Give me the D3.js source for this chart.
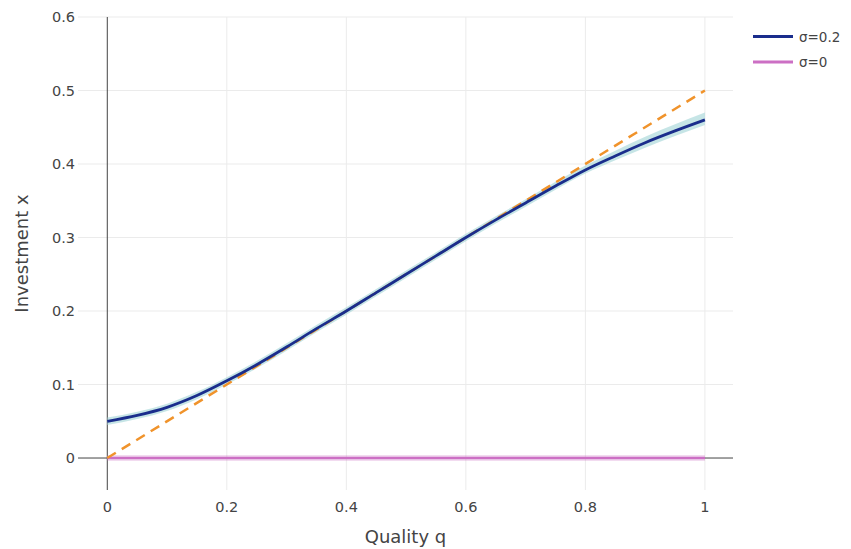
<!DOCTYPE html>
<html>
<head>
<meta charset="utf-8">
<script src="https://cdn.jsdelivr.net/npm/d3@7"></script>
<style>
  body { margin: 0; background: #fff; }
  svg { display: block; font-family: "DejaVu Sans", sans-serif; }
</style>
</head>
<body>
<svg id="chart" width="851" height="549"></svg>
<script>
// Quality grid and simulated investment
const quality = [0, 0.05, 0.1, 0.15, 0.2, 0.25, 0.3, 0.35, 0.4, 0.45, 0.5,
                 0.55, 0.6, 0.65, 0.7, 0.75, 0.8, 0.85, 0.9, 0.95, 1.0];
const investNoise = [0.050, 0.058, 0.069, 0.085, 0.105, 0.127, 0.151, 0.176, 0.200, 0.225, 0.250,
                     0.275, 0.300, 0.324, 0.347, 0.370, 0.392, 0.411, 0.429, 0.445, 0.460];
const bandUpper = [0.055, 0.063, 0.074, 0.090, 0.110, 0.132, 0.156, 0.181, 0.205, 0.230, 0.255,
                   0.280, 0.305, 0.329, 0.352, 0.376, 0.398, 0.418, 0.437, 0.454, 0.470];
const bandLower = [0.045, 0.053, 0.064, 0.080, 0.100, 0.122, 0.146, 0.171, 0.195, 0.220, 0.245,
                   0.270, 0.295, 0.319, 0.342, 0.365, 0.387, 0.405, 0.422, 0.438, 0.453];
const investNoNoise = [0, 0, 0, 0, 0, 0, 0, 0, 0, 0, 0, 0, 0, 0, 0, 0, 0, 0, 0, 0, 0];
// Reference line x = q/2
const refQ = [0, 1];
const refX = [0, 0.5];

const xTicks = [0, 0.2, 0.4, 0.6, 0.8, 1];
const yTicks = [0, 0.1, 0.2, 0.3, 0.4, 0.5, 0.6];
const seriesNames = ["σ=0.2", "σ=0"];
const seriesColors = ["#1a2d8c", "#cc6fc4"];

const svg = d3.select("#chart");
const plotLeft = 78, plotRight = 733, plotTop = 17, plotBottom = 490;

const x = d3.scaleLinear().domain([-0.049, 1.047]).range([plotLeft, plotRight]);
const y = d3.scaleLinear().domain([-0.0435, 0.6]).range([plotBottom, plotTop]);

// Grid
const grid = svg.append("g");
grid.selectAll("line.gx").data(xTicks.filter(d => d !== 0)).join("line")
  .attr("x1", d => x(d)).attr("x2", d => x(d))
  .attr("y1", plotTop).attr("y2", plotBottom)
  .attr("stroke", "#ebebeb").attr("stroke-width", 1);
grid.selectAll("line.gy").data(yTicks.filter(d => d !== 0)).join("line")
  .attr("x1", plotLeft).attr("x2", plotRight)
  .attr("y1", d => y(d)).attr("y2", d => y(d))
  .attr("stroke", "#ebebeb").attr("stroke-width", 1);

// Zero lines
svg.append("line").attr("x1", x(0)).attr("x2", x(0)).attr("y1", plotTop).attr("y2", plotBottom)
  .attr("stroke", "#444").attr("stroke-width", 1);
svg.append("line").attr("x1", plotLeft).attr("x2", plotRight).attr("y1", y(0)).attr("y2", y(0))
  .attr("stroke", "#444").attr("stroke-width", 1);

// Tick labels
svg.append("g").selectAll("text").data(xTicks).join("text")
  .attr("x", d => x(d)).attr("y", 512)
  .attr("text-anchor", "middle").attr("font-size", 14.5).attr("fill", "#444")
  .text(d => d3.format("")(d));
svg.append("g").selectAll("text").data(yTicks).join("text")
  .attr("x", 75).attr("y", d => y(d) + 5.3)
  .attr("text-anchor", "end").attr("font-size", 14.5).attr("fill", "#444")
  .text(d => d3.format("")(d));

// Axis titles
svg.append("text").attr("x", (plotLeft + plotRight) / 2).attr("y", 543)
  .attr("text-anchor", "middle").attr("font-size", 18).attr("fill", "#444")
  .text("Quality q");
svg.append("text").attr("transform", `translate(28,${(plotTop + plotBottom) / 2}) rotate(-90)`)
  .attr("text-anchor", "middle").attr("font-size", 18).attr("fill", "#444")
  .text("Investment x");

const pts = quality.map((q, i) => ({q, v: investNoise[i], hi: bandUpper[i], lo: bandLower[i], z: investNoNoise[i]}));

// Confidence band
svg.append("path").datum(pts)
  .attr("d", d3.area().curve(d3.curveMonotoneX).x(d => x(d.q)).y0(d => y(d.lo)).y1(d => y(d.hi)))
  .attr("fill", "rgba(160,212,214,0.6)");

// σ=0 line with faint halo
svg.append("path").datum(pts)
  .attr("d", d3.line().x(d => x(d.q)).y(d => y(d.z)))
  .attr("fill", "none").attr("stroke", "rgba(204,111,196,0.25)").attr("stroke-width", 6);
svg.append("path").datum(pts)
  .attr("d", d3.line().x(d => x(d.q)).y(d => y(d.z)))
  .attr("fill", "none").attr("stroke", seriesColors[1]).attr("stroke-width", 2.5);

// Reference dashed line
svg.append("path").datum(refQ.map((q, i) => ({q, v: refX[i]})))
  .attr("d", d3.line().x(d => x(d.q)).y(d => y(d.v)))
  .attr("fill", "none").attr("stroke", "#f0932b").attr("stroke-width", 2.5)
  .attr("stroke-dasharray", "10,7");

// σ=0.2 line
svg.append("path").datum(pts)
  .attr("d", d3.line().curve(d3.curveMonotoneX).x(d => x(d.q)).y(d => y(d.v)))
  .attr("fill", "none").attr("stroke", seriesColors[0]).attr("stroke-width", 2.8);

// Legend
const legend = svg.append("g");
seriesNames.forEach((name, i) => {
  const ly = 36.5 + i * 25.5;
  legend.append("line").attr("x1", 753).attr("x2", 793).attr("y1", ly).attr("y2", ly)
    .attr("stroke", seriesColors[i]).attr("stroke-width", 2.8);
  legend.append("text").attr("x", 799).attr("y", ly + 5)
    .attr("font-size", 13.5).attr("fill", "#444").text(name);
});
</script>
</body>
</html>
